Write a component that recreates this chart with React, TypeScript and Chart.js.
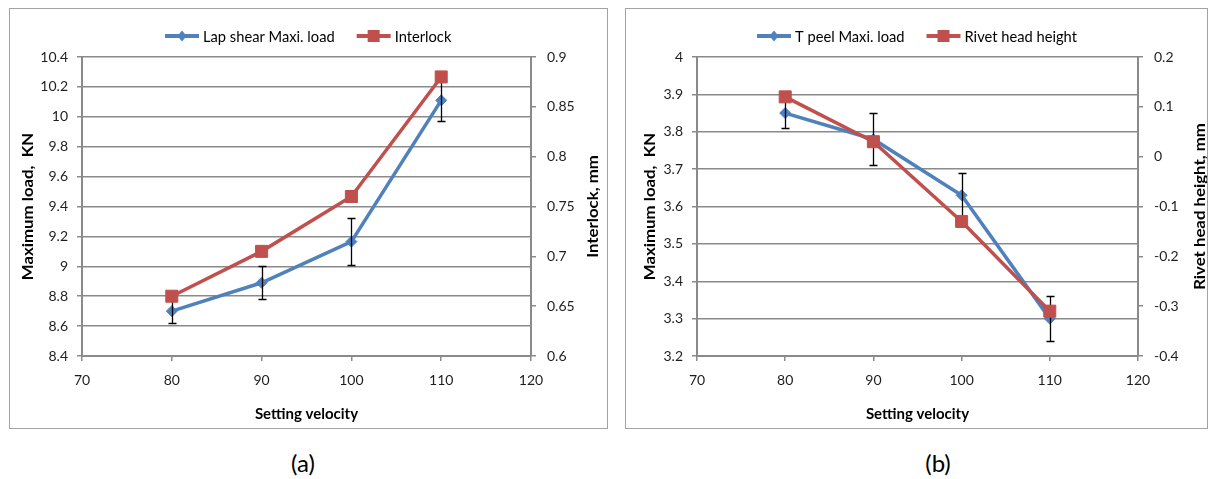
import React, { useEffect, useRef } from "react";
import { Chart, registerables } from "chart.js";

Chart.register(...registerables);

// Shared x values (setting velocity) and x axis ticks
const velocity = [80, 90, 100, 110];
const velocityTicks = [70, 80, 90, 100, 110, 120];

// (a) Lap shear maximum load (KN) with error, and interlock (mm)
const lapShearLoad = [8.7, 8.89, 9.165, 10.11];
const lapShearErr = [0.08, 0.11, 0.155, 0.14];
const interlock = [0.66, 0.705, 0.76, 0.88];
const lapShearTicks = [8.4, 8.6, 8.8, 9, 9.2, 9.4, 9.6, 9.8, 10, 10.2, 10.4];
const interlockTicks = [0.6, 0.65, 0.7, 0.75, 0.8, 0.85, 0.9];

// (b) T peel maximum load (KN) with error, and rivet head height (mm)
const tPeelLoad = [3.85, 3.78, 3.63, 3.3];
const tPeelErr = [0.04, 0.07, 0.06, 0.06];
const rivetHeight = [0.12, 0.03, -0.13, -0.31];
const tPeelTicks = [3.2, 3.3, 3.4, 3.5, 3.6, 3.7, 3.8, 3.9, 4];
const rivetTicks = [-0.4, -0.3, -0.2, -0.1, 0, 0.1, 0.2];

const FONT = "Lato, 'Open Sans', sans-serif";
const BLUE = "#4F81BD";
const RED = "#C0504D";
const GRID = "#8a8a8a";
const TEXT = "#1e1e1e";

type PanelProps = {
  left: number;
  top: number;
  width: number;
  height: number;
  leftAxisWidth: number;
  rightAxisWidth: number;
  plotTop: number;
  xAxisHeight: number;
  leftTitleX: number;
  rightTitleX: number;
  loadName: string;
  sideName: string;
  load: number[];
  loadErr: number[];
  side: number[];
  loadTicks: number[];
  sideTicks: number[];
  loadTitle: string;
  sideTitle: string;
};

function drawMarker(ctx: CanvasRenderingContext2D, kind: "diamond" | "square", cx: number, cy: number, color: string) {
  ctx.fillStyle = color;
  ctx.beginPath();
  if (kind === "diamond") {
    ctx.moveTo(cx, cy - 5.5);
    ctx.lineTo(cx + 4.5, cy);
    ctx.lineTo(cx, cy + 5.5);
    ctx.lineTo(cx - 4.5, cy);
    ctx.closePath();
  } else {
    ctx.rect(cx - 6, cy - 6, 12, 12);
  }
  ctx.fill();
}

// Vertical axis title, reading bottom to top, slightly elongated along the text
function drawVerticalTitle(ctx: CanvasRenderingContext2D, text: string, x: number, y: number) {
  ctx.save();
  ctx.font = `bold 15px ${FONT}`;
  ctx.fillStyle = "#000";
  ctx.textAlign = "center";
  ctx.textBaseline = "middle";
  ctx.translate(x, y);
  ctx.rotate(-Math.PI / 2);
  ctx.scale(1.12, 1);
  ctx.fillText(text, 0, 0);
  ctx.restore();
}

const formatTick = (value: number | string) => String(parseFloat(Number(value).toFixed(4)));

function Panel(p: PanelProps) {
  const ref = useRef<HTMLCanvasElement | null>(null);

  useEffect(() => {
    const canvas = ref.current;
    if (!canvas) return;

    const errorBars = {
      id: "errorBars",
      afterDatasetDraw(chart: any, args: any) {
        if (args.index !== 0) return;
        const { ctx, scales } = chart;
        ctx.save();
        ctx.strokeStyle = "#000";
        ctx.lineWidth = 1.3;
        p.load.forEach((v, i) => {
          const px = Math.round(scales.x.getPixelForValue(velocity[i])) + 0.5;
          const hi = Math.round(scales.y.getPixelForValue(v + p.loadErr[i])) + 0.5;
          const lo = Math.round(scales.y.getPixelForValue(v - p.loadErr[i])) + 0.5;
          ctx.beginPath();
          ctx.moveTo(px, hi);
          ctx.lineTo(px, lo);
          ctx.moveTo(px - 4, hi);
          ctx.lineTo(px + 4, hi);
          ctx.moveTo(px - 4, lo);
          ctx.lineTo(px + 4, lo);
          ctx.stroke();
        });
        ctx.restore();
      },
    };

    const decorations = {
      id: "decorations",
      afterDraw(chart: any) {
        const { ctx, chartArea, width } = chart;
        ctx.save();
        // legend: line sample with marker, then label
        ctx.font = `14.7px ${FONT}`;
        const items = [
          { name: p.loadName, color: BLUE, kind: "diamond" as const },
          { name: p.sideName, color: RED, kind: "square" as const },
        ];
        const sample = 34;
        const gapText = 4;
        const gapItem = 22;
        const widths = items.map((it) => sample + gapText + ctx.measureText(it.name).width);
        const total = widths[0] + gapItem + widths[1];
        let x = Math.round((width - total) / 2);
        const y = 28;
        items.forEach((it, i) => {
          ctx.strokeStyle = it.color;
          ctx.lineWidth = 4;
          ctx.beginPath();
          ctx.moveTo(x, y);
          ctx.lineTo(x + sample, y);
          ctx.stroke();
          drawMarker(ctx, it.kind, x + sample / 2, y, it.color);
          ctx.fillStyle = "#000";
          ctx.textAlign = "left";
          ctx.textBaseline = "middle";
          ctx.fillText(it.name, x + sample + gapText, y + 1);
          x += widths[i] + gapItem;
        });
        ctx.restore();
        const midY = (chartArea.top + chartArea.bottom) / 2;
        drawVerticalTitle(ctx, p.loadTitle, p.leftTitleX, midY);
        drawVerticalTitle(ctx, p.sideTitle, p.rightTitleX, midY);
      },
    };

    const setTicks = (values: number[]) => (scale: any) => {
      scale.ticks = values.map((v) => ({ value: v }));
    };

    const tickFont = { family: FONT, size: 14 };

    const chart = new Chart(canvas, {
      type: "line",
      data: {
        datasets: [
          {
            label: p.loadName,
            data: velocity.map((v, i) => ({ x: v, y: p.load[i] })),
            yAxisID: "y",
            borderColor: BLUE,
            backgroundColor: BLUE,
            borderWidth: 3.5,
            pointStyle: "rectRot",
            pointRadius: 5.5,
            pointBorderWidth: 1,
            pointBackgroundColor: BLUE,
            pointBorderColor: BLUE,
            order: 1,
          },
          {
            label: p.sideName,
            data: velocity.map((v, i) => ({ x: v, y: p.side[i] })),
            yAxisID: "y1",
            borderColor: RED,
            backgroundColor: RED,
            borderWidth: 3.5,
            pointStyle: "rect",
            pointRadius: 8.5,
            pointBorderWidth: 1,
            pointBackgroundColor: RED,
            pointBorderColor: RED,
            order: 0,
          },
        ],
      },
      options: {
        animation: false,
        responsive: false,
        devicePixelRatio: 1,
        layout: { padding: { top: p.plotTop, left: 0, right: 0, bottom: 0 } },
        plugins: {
          legend: { display: false },
          tooltip: { enabled: false },
        },
        elements: { line: { tension: 0 } },
        scales: {
          x: {
            type: "linear",
            min: velocityTicks[0],
            max: velocityTicks[velocityTicks.length - 1],
            afterBuildTicks: setTicks(velocityTicks),
            afterFit: (s: any) => {
              s.height = p.xAxisHeight;
            },
            grid: { drawOnChartArea: false, drawTicks: true, tickLength: 5, color: GRID, lineWidth: 1.5 },
            border: { display: true, color: GRID, width: 2 },
            ticks: { color: TEXT, font: tickFont, padding: 11, maxRotation: 0, callback: formatTick },
            title: {
              display: true,
              text: "Setting velocity",
              color: "#000",
              font: { family: FONT, size: 15, weight: "bold" },
              padding: { top: 0, bottom: 6 },
            },
          },
          y: {
            type: "linear",
            position: "left",
            min: p.loadTicks[0],
            max: p.loadTicks[p.loadTicks.length - 1],
            afterBuildTicks: setTicks(p.loadTicks),
            afterFit: (s: any) => {
              s.width = p.leftAxisWidth;
            },
            grid: { drawOnChartArea: true, drawTicks: true, tickLength: 5, color: GRID, lineWidth: 1.5 },
            border: { display: true, color: GRID, width: 2 },
            ticks: { color: TEXT, font: tickFont, padding: 9, callback: formatTick },
          },
          y1: {
            type: "linear",
            position: "right",
            min: p.sideTicks[0],
            max: p.sideTicks[p.sideTicks.length - 1],
            afterBuildTicks: setTicks(p.sideTicks),
            afterFit: (s: any) => {
              s.width = p.rightAxisWidth;
            },
            grid: { drawOnChartArea: false, drawTicks: true, tickLength: 5, color: GRID, lineWidth: 1.5 },
            border: { display: true, color: GRID, width: 2 },
            ticks: { color: TEXT, font: tickFont, padding: 11, callback: formatTick },
          },
        },
      },
      plugins: [errorBars, decorations],
    } as any);

    return () => chart.destroy();
  }, []);

  return (
    <div style={{ position: "absolute", left: p.left, top: p.top, width: p.width, height: p.height }}>
      <canvas ref={ref} width={p.width} height={p.height} style={{ display: "block" }} />
      <div
        style={{
          position: "absolute",
          inset: 0,
          border: "1px solid #a3a3a3",
          boxSizing: "border-box",
          pointerEvents: "none",
        }}
      />
    </div>
  );
}

export default function App() {
  return (
    <div
      style={{
        position: "fixed",
        left: 0,
        top: 0,
        width: 1209,
        height: 479,
        background: "#fff",
        fontFamily: FONT,
      }}
    >
      <Panel
        left={9}
        top={8}
        width={599}
        height={421}
        leftAxisWidth={73}
        rightAxisWidth={77}
        plotTop={49}
        xAxisHeight={73}
        leftTitleX={19}
        rightTitleX={584}
        loadName="Lap shear Maxi. load"
        sideName="Interlock"
        load={lapShearLoad}
        loadErr={lapShearErr}
        side={interlock}
        loadTicks={lapShearTicks}
        sideTicks={interlockTicks}
        loadTitle="Maximum load,  KN"
        sideTitle="Interlock, mm"
      />
      <Panel
        left={625}
        top={8}
        width={583}
        height={421}
        leftAxisWidth={72}
        rightAxisWidth={70}
        plotTop={49}
        xAxisHeight={73}
        leftTitleX={25}
        rightTitleX={575}
        loadName="T peel Maxi. load"
        sideName="Rivet head height"
        load={tPeelLoad}
        loadErr={tPeelErr}
        side={rivetHeight}
        loadTicks={tPeelTicks}
        sideTicks={rivetTicks}
        loadTitle="Maximum load,  KN"
        sideTitle="Rivet head height, mm"
      />
      <div style={{ position: "absolute", left: 253, top: 448, width: 100, textAlign: "center", fontSize: 24, lineHeight: "30px", color: "#000" }}>
        (a)
      </div>
      <div style={{ position: "absolute", left: 888, top: 448, width: 100, textAlign: "center", fontSize: 24, lineHeight: "30px", color: "#000" }}>
        (b)
      </div>
    </div>
  );
}
